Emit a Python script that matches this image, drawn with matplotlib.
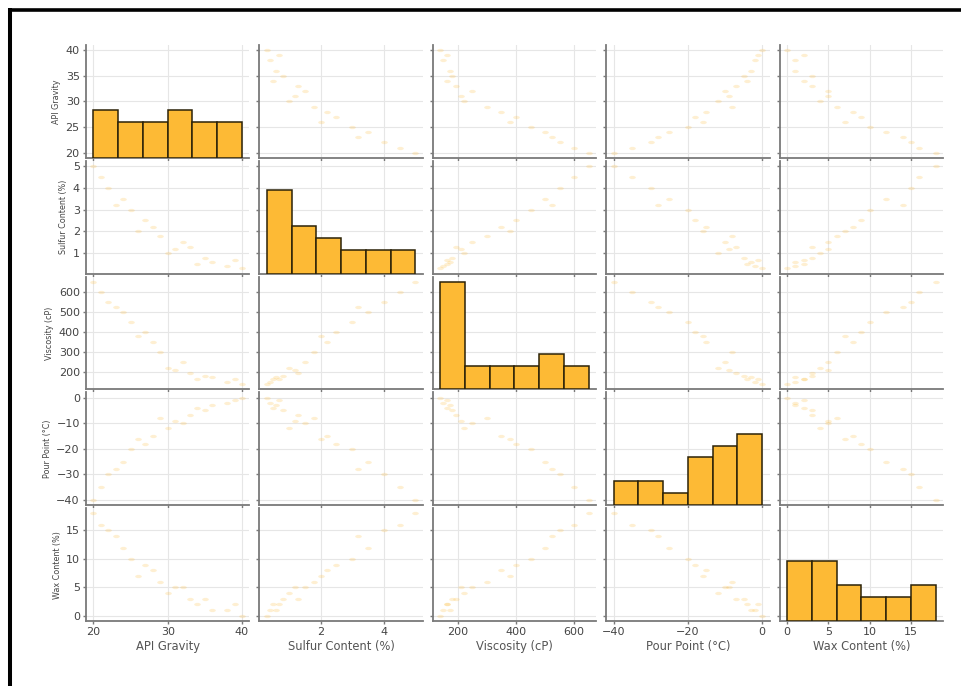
import matplotlib
matplotlib.use("Agg")
import matplotlib.pyplot as plt
from matplotlib.ticker import MultipleLocator
from matplotlib.markers import MarkerStyle
from matplotlib.transforms import Affine2D
from matplotlib.lines import Line2D

# ---- data ----
labels = ["API Gravity", "Sulfur Content (%)", "Viscosity (cP)", "Pour Point (°C)", "Wax Content (%)"]
api = [20, 21, 22, 23, 24, 25, 26, 27, 28, 29, 30, 31, 32, 33, 34, 35, 36, 38, 39, 40]
sulfur = [5.0, 4.5, 4.0, 3.2, 3.5, 3.0, 2.0, 2.5, 2.2, 1.8, 1.0, 1.2, 1.5, 1.3, 0.5, 0.8, 0.6, 0.4, 0.7, 0.3]
viscosity = [650, 600, 550, 525, 500, 450, 380, 400, 350, 300, 220, 210, 250, 195, 165, 180, 175, 150, 165, 140]
pour_point = [-40, -35, -30, -28, -25, -20, -16, -18, -15, -8, -12, -9, -10, -7, -4, -5, -3, -2, -1, 0]
wax = [18, 16, 15, 14, 12, 10, 7, 9, 8, 6, 4, 5, 5, 3, 2, 3, 1, 1, 2, 0]
series = [api, sulfur, viscosity, pour_point, wax]
major_y = [5, 1, 100, 10, 5]
major_x = [10, 2, 200, 20, 5]

BAR = "#FDBA35"
W, H = 962, 686
fig = plt.figure(figsize=(W / 100, H / 100), dpi=100)
n = len(series)
axes = fig.subplots(n, n, sharex="col", sharey="row",
                    gridspec_kw=dict(left=86 / W, right=943 / W, top=1 - 45 / H,
                                     bottom=1 - 621 / H, wspace=0.061, hspace=0.027))

mk = MarkerStyle("o", transform=Affine2D().scale(1.5, 0.75))
twins = []
for i in range(n):
    for j in range(n):
        ax = axes[i, j]
        ax.set_facecolor("white")
        ax.grid(True, color="#e6e6e6", linewidth=0.8)
        ax.set_axisbelow(True)
        for s in ("top", "right"):
            ax.spines[s].set_visible(False)
        for s in ("left", "bottom"):
            ax.spines[s].set_color("#7a7a7a")
            ax.spines[s].set_linewidth(1.3)
        ax.tick_params(length=2.5, width=1, color="#7a7a7a", labelsize=8,
                       labelcolor="#444444", pad=2)
        if i != j:
            ax.scatter(series[j], series[i], s=10, marker=mk, color=BAR,
                       alpha=0.22, linewidths=0)
        else:
            t = ax.twinx()
            if twins:
                t.sharey(twins[0])
            twins.append(t)

for i in range(n):
    t = twins[i]
    t.hist(series[i], bins=6, color=BAR, edgecolor="#2b2208", linewidth=1.1)
    t.yaxis.set_visible(False)
    for s in t.spines.values():
        s.set_visible(False)
    t.grid(False)

for i in range(n):
    axes[i, 0].yaxis.set_major_locator(MultipleLocator(major_y[i]))
    axes[0, i].xaxis.set_major_locator(MultipleLocator(major_x[i]))
    axes[i, 0].set_ylabel(labels[i], fontsize=5.8, color="#444444", labelpad=3)
    axes[n - 1, i].set_xlabel(labels[i], fontsize=8.3, color="#555555", labelpad=2)

# black frame of the cropped screenshot (top and left edges)
fig.add_artist(Line2D([10 / W, 10 / W], [0, 1 - 8 / H], transform=fig.transFigure,
                      color="black", linewidth=2.9, solid_capstyle="butt"))
fig.add_artist(Line2D([8 / W, 1], [1 - 9.5 / H, 1 - 9.5 / H], transform=fig.transFigure,
                      color="black", linewidth=2.6, solid_capstyle="butt"))

fig.savefig("out.png", dpi=100, facecolor="white")
